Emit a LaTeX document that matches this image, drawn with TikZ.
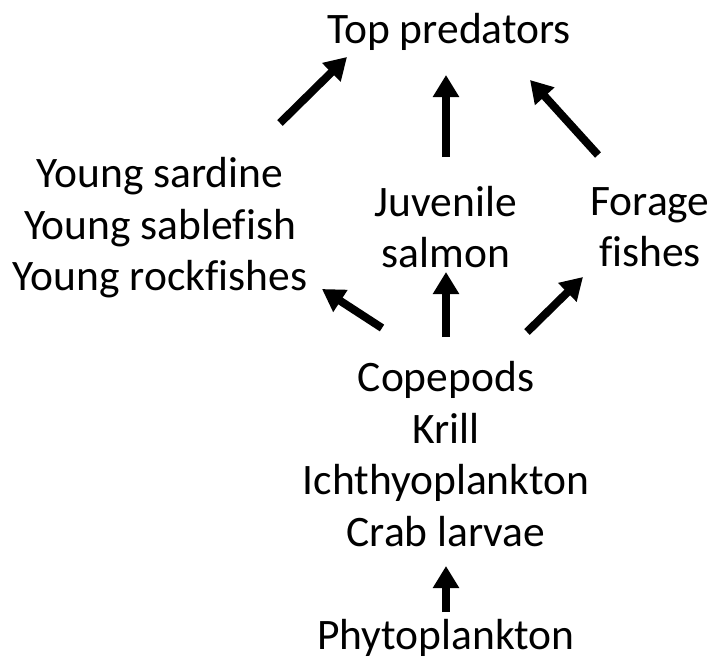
\documentclass[tikz,border=0pt]{standalone}
\usepackage{fontspec}
\setmainfont{Carlito}[Ligatures=NoCommon]
\usetikzlibrary{arrows.meta}

\begin{document}
\begin{tikzpicture}[x=1pt, y=-1pt,
    txt/.style={align=center, inner sep=0pt, font=\fontsize{43.5}{51.5}\selectfont},
    flow/.style={-{Triangle[length=22pt, width=25pt]}, line width=8pt}]

  \useasboundingbox (0,0) rectangle (714,664);

  % --- Niveles de la red trófica ---
  \node[txt] (top)    at (449,32)  {Top predators};
  \node[txt] (young)  at (160,228) {Young sardine\\Young sablefish\\Young rockfishes};
  \node[txt] (juv)    at (446,227) {Juvenile\\salmon};
  \node[txt] (forage) at (650,227) {Forage\\fishes};
  \node[txt] (cope)   at (446,454) {Copepods\\Krill\\Ichthyoplankton\\Crab larvae};
  \node[txt] (phyto)  at (446,638) {Phytoplankton};

  % --- Extremos de las flechas ---
  \coordinate (young-up)  at (280,123);
  \coordinate (top-l)     at (347,57);
  \coordinate (juv-up)    at (446,157);
  \coordinate (top-c)     at (446,75);
  \coordinate (forage-up) at (598,155);
  \coordinate (top-r)     at (530,80);
  \coordinate (cope-l)    at (382,328);
  \coordinate (young-in)  at (322,289);
  \coordinate (cope-c)    at (446,337);
  \coordinate (juv-in)    at (446,272);
  \coordinate (cope-r)    at (527,332);
  \coordinate (forage-in) at (583,277);
  \coordinate (phyto-up)  at (446,612);
  \coordinate (cope-in)   at (446,566);

  % --- Flujos de energía ---
  \draw[flow] (young-up)  -- (top-l);
  \draw[flow] (juv-up)    -- (top-c);
  \draw[flow] (forage-up) -- (top-r);
  \draw[flow] (cope-l)    -- (young-in);
  \draw[flow] (cope-c)    -- (juv-in);
  \draw[flow] (cope-r)    -- (forage-in);
  \draw[flow] (phyto-up)  -- (cope-in);

\end{tikzpicture}
\end{document}
